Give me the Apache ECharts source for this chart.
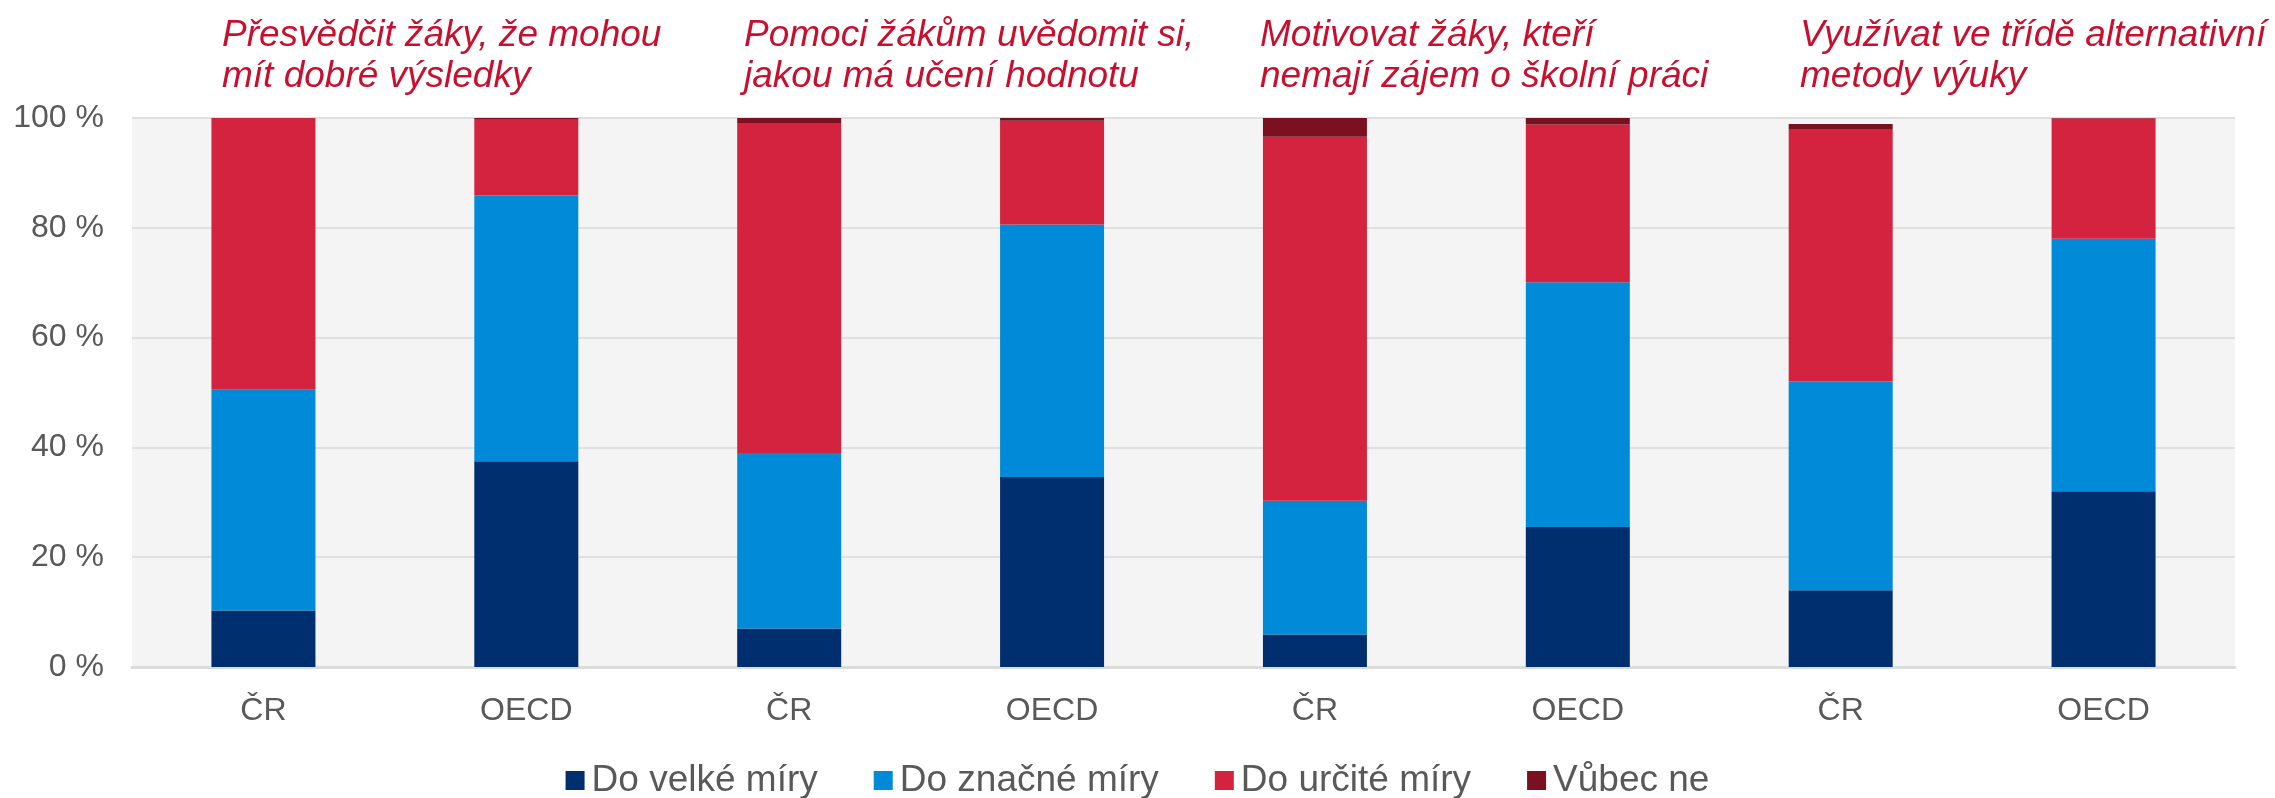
<!DOCTYPE html>
<html>
<head>
<meta charset="utf-8">
<script src="https://cdn.jsdelivr.net/npm/echarts@6/dist/echarts.min.js"></script>
<style>
  html, body { margin: 0; padding: 0; background: #fff; }
  #main { width: 2275px; height: 798px; }
</style>
</head>
<body>
<div id="main"></div>
<script>
// kategorie (dvojice ČR / OECD pro každou oblast)
var categories = ['ČR', 'OECD', 'ČR', 'OECD', 'ČR', 'OECD', 'ČR', 'OECD'];

// nadpisy nad dvojicemi sloupců
var groupTitles = [
    'Přesvědčit žáky, že mohou\nmít dobré výsledky',
    'Pomoci žákům uvědomit si,\njakou má učení hodnotu',
    'Motivovat žáky, kteří\nnemají zájem o školní práci',
    'Využívat ve třídě alternativní\nmetody výuky'
];

// hodnoty v %
var doVelkeMiry   = [10.3, 37.5, 7.0, 34.6, 5.9, 25.5, 14.0, 32.0];
var doZnacneMiry  = [40.2, 48.4, 32.0, 46.0, 24.4, 44.6, 38.0, 46.0];
var doUrciteMiry  = [49.5, 13.8, 60.1, 18.9, 66.3, 28.7, 46.0, 21.9];
var vubecNe       = [0.0, 0.3, 0.9, 0.5, 3.4, 1.2, 0.9, 0.2];

var yTicks = [0, 20, 40, 60, 80, 100];

var titleLeft = [217, 739, 1255, 1795];

var chart = echarts.init(document.getElementById('main'));

function barSeries(name, data, color) {
    return {
        name: name,
        type: 'bar',
        stack: 'total',
        barWidth: 104,
        data: data,
        itemStyle: { color: color },
        emphasis: { disabled: true }
    };
}

var option = {
    animation: false,
    title: groupTitles.map(function (t, i) {
        return {
            text: t,
            left: titleLeft[i],
            top: 10,
            textStyle: {
                fontFamily: 'Liberation Sans, Arial, sans-serif',
                fontStyle: 'italic',
                fontWeight: 'normal',
                fontSize: 37,
                lineHeight: 41,
                color: '#C8102E'
            }
        };
    }),
    legend: {
        top: 757,
        left: 'center',
        itemWidth: 19,
        itemHeight: 19,
        itemGap: 56,
        icon: 'rect',
        textStyle: {
            fontFamily: 'Liberation Sans, Arial, sans-serif',
            fontSize: 37,
            color: '#595959',
            padding: [0, 0, 0, 2]
        },
        data: ['Do velké míry', 'Do značné míry', 'Do určité míry', 'Vůbec ne']
    },
    grid: {
        left: 132,
        right: 40,
        top: 118,
        bottom: 131,
        show: true,
        backgroundColor: '#f4f4f4',
        borderWidth: 0
    },
    xAxis: {
        type: 'category',
        data: categories,
        axisLine: { lineStyle: { color: '#dcdcdc', width: 3 } },
        axisTick: { show: false },
        axisLabel: {
            fontFamily: 'Liberation Sans, Arial, sans-serif',
            fontSize: 32,
            color: '#595959',
            margin: 28
        }
    },
    yAxis: {
        type: 'value',
        min: yTicks[0],
        max: yTicks[yTicks.length - 1],
        interval: 20,
        axisLine: { show: false },
        axisTick: { show: false },
        splitLine: { lineStyle: { color: '#e0e0e0', width: 2 } },
        axisLabel: {
            formatter: '{value} %',
            fontFamily: 'Liberation Sans, Arial, sans-serif',
            fontSize: 32,
            color: '#595959',
            margin: 28
        }
    },
    series: [
        barSeries('Do velké míry', doVelkeMiry, '#002F6F'),
        barSeries('Do značné míry', doZnacneMiry, '#008AD8'),
        barSeries('Do určité míry', doUrciteMiry, '#D4233F'),
        barSeries('Vůbec ne', vubecNe, '#7A1020')
    ]
};

chart.setOption(option);
</script>
</body>
</html>
